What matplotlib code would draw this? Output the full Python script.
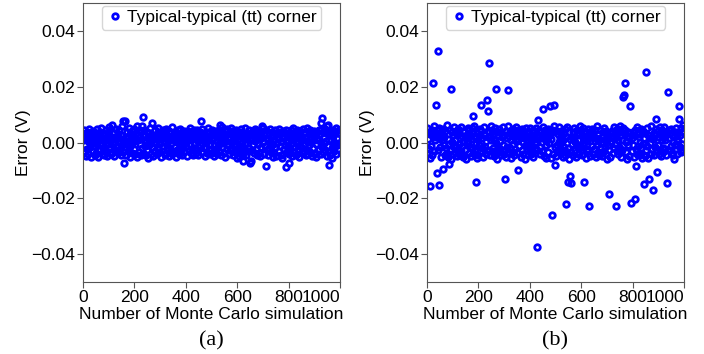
import numpy as np
import matplotlib.pyplot as plt

plt.rcParams['font.family'] = ['Liberation Sans', 'DejaVu Sans']

#%% Data (error in units of 0.1 mV, one value per 2 Monte Carlo runs)

band_a = [
    21, -34, 45, -8, 30, -47, 12, 38, -22, 5, -41, 27, 50, -15, 9, -53, 34, -3, 18, -29,
    43, -12, 2, -45, 31, 16, -36, 48, -6, 24, -50, 11, 39, -27, -2, 52, -39, 14, 33, -19,
    -44, 7, 28, -31, 46, -10, 19, -49, 36, 0, -24, 55, -16, 25, -42, 8, 41, -33, 13, -5,
    35, -48, 22, 4, -28, 49, -14, 30, -38, 17, 44, -21, 1, -46, 29, 58, -9, 37, -35, 10,
    -26, 47, -1, 20, -43, 15, 40, -30, 6, 54, -18, 32, -51, 23, -7, 42, -37, 26, 3, -23,
    50, -40, 13, 34, -11, -52, 27, 8, -32, 45, 19, -4, -46, 38, 60, -20, 24, -36, 11, 47,
    -13, 29, -44, 3, 40, -27, 16, -55, 33, -8, 22, 51, -39, 9, -17, 36, -48, 25, 1, -30,
    44, -6, 18, -42, 31, -23, 53, 12, -35, 39, -2, -50, 27, 15, -29, 46, -12, 4, 35, -45,
    21, -37, 48, -9, 26, -19, 7, 42, -47, 17, 33, -25, -3, 56, -41, 23, 10, -33, 38, -14,
    -52, 30, 2, -28, 45, 14, -40, 24, -7, 50, -21, 36, -44, 11, 28, -16, 43, -34, 5, 19,
    37, -11, -49, 25, 8, 41, -31, 16, -4, 53, -38, 20, -24, 34, -46, 0, 47, -18, 30, -36,
    12, 44, -27, 6, -43, 32, 18, -10, 39, -53, 24, -1, 49, -32, 15, -20, 35, -47, 27, 3,
    -15, 40, -37, 22, 52, -5, 11, -42, 29, -26, 46, 9, -34, 17, -48, 38, -8, 26, -22, 43,
    5, -39, 31, -13, 47, -30, 20, 1, -45, 36, -17, 55, -2, 23, -36, 13, 41, -50, 7, 28,
    -24, 48, -9, 34, -41, 18, -28, 51, 4, -19, 42, -44, 25, -6, 37, -33, 10, 45, -12, -54,
    32, -21, 14, -47, 39, 6, -35, 26, 49, -14, 0, -40, 35, 19, -26, 52, -3, -43, 29, 12,
    -31, 23, 46, -18, 9, -57, 33, -60, 16, -25, 43, -8, 28, -38, 5, 50, -23, 37, -46, 15,
    41, -4, -36, 27, 12, -49, 38, -15, 22, -30, 54, 3, -42, 31, -11, -58, 45, -27, 17, 8,
    -45, 35, -20, 2, 48, -33, 19, -7, 40, -52, 26, 11, -37, 44, -16, 30, -48, 21, -1, 39,
    14, -29, 50, -12, 36, -43, 7, 25, -54, 42, -22, 17, 33, -9, -62, 46, -34, 4, 28, -18,
    -40, -57, 20, -26, 44, 10, -47, 31, -3, 53, -32, 18, 38, -14, 6, -44, 27, 47, -21, 1,
    34, -50, 13, 41, -17, 24, -38, 9, 49, -6, -29, 36, 15, -45, 22, 52, -25, 3, -41, 30,
    -10, 45, -34, 19, 2, -48, 37, 26, -20, 11, 43, -39, 28, -5, -53, 16, 39, -28, 8, 47,
    -23, 32, 55, -42, 14, -15, 40, -35, 21, -3, 48, -26, 6, 35, 60, -49, 25, -11, 18, 42,
    29, -46, 10, 36, -19, -55, 23, 45, -31, 4, 38, -13, 51, -40, 17, -7, 33, -24, 46, 0,
]
out_run_a = [112, 154, 160, 162, 208, 232, 270, 458, 532, 624, 650, 654, 698,
             710, 788, 802, 924, 928, 948, 952, 956]
out_val_a = [64, 78, -73, 76, 61, 92, 70, 76, 64, -67, -73, -65, 61,
             -85, -87, -73, 70, 88, 61, 62, -81]

band_b = [
    -38, 52, 14, -21, 40, -55, 6, 31, -12, 47, -43, 23, -2, 58, -30, 10, 36, -48, 19, -7,
    44, -25, 3, 54, -40, 16, -15, 37, -52, 27, 8, -33, 49, -9, 21, -46, 41, -19, 62, -36,
    12, -50, 33, -4, 46, -28, 20, -58, 38, 1, -41, 26, 55, -17, 9, -35, 43, -11, 30, -47,
    -22, 48, -6, 35, -44, 15, 57, -31, 24, -13, 42, -53, 4, 39, -26, 18, -60, 29, -2, 51,
    7, -37, 45, -16, 28, -49, 13, 53, -24, 36, -8, 60, -42, 22, -29, 47, -3, -56, 34, 11,
    -45, 25, -10, 50, -34, 2, 41, -20, 16, -51, 32, 56, -14, 27, -39, 5, 44, -27, 19, -54,
    38, -5, 23, -43, 11, 59, -30, 45, -18, 30, -47, 8, 52, -36, 14, -1, 40, -57, 26, -12,
    -33, 49, -23, 6, 37, -46, 20, -9, 55, -40, 28, 13, -28, 43, -52, 17, -15, 34, 61, -38,
    24, -18, 42, -55, 9, 31, -35, 50, -4, 19, -44, 36, -21, 5, 57, -32, 27, -48, 12, 46,
    -11, 35, -50, 21, 48, -26, 3, -39, 40, 15, -58, 29, -7, 53, -22, 39, -45, 10, -17, 33,
    54, -29, 8, -42, 26, -13, 44, -53, 18, 38, -6, -37, 51, 1, -25, 32, -49, 22, 47, -15,
    -41, 16, 39, -31, 4, 56, -19, 28, -47, 12, 45, -8, -54, 35, 20, -34, 50, -2, 25, -44,
    30, -56, 13, 46, -23, 37, -40, 7, 59, -16, 23, -48, 41, -10, 32, -30, 2, 55, -38, 17,
    -3, 43, -27, 24, -51, 10, 34, -14, 49, -45, 19, 6, -35, 57, -20, 27, -59, 38, -9, 14,
    47, -33, 21, -6, 40, -43, 15, 52, -26, 3, -50, 31, 44, -18, 9, -41, 36, -12, 60, -28,
    -16, 29, -46, 54, -8, 18, -38, 42, 11, -55, 33, -21, 5, 48, -31, 24, -4, -47, 39, 20,
    35, -12, 50, -39, 26, -24, 7, 44, -52, 16, -7, 58, -33, 30, -44, 13, 46, -19, 2, -36,
    -49, 22, -1, 37, -30, 53, -15, 9, 41, -42, 28, -57, 18, -10, 45, -27, 34, -53, 23, 4,
    43, -37, 15, -20, 55, -5, 32, -46, 19, 48, -29, 10, -40, 38, -14, 61, -24, 27, -51, 8,
    -27, 51, -43, 12, 33, -17, 47, -34, 3, -59, 25, 40, -9, 20, -48, 36, -2, 53, -31, 16,
    39, -8, 28, -52, 14, 45, -23, 6, -40, 57, -13, 31, -45, 22, 1, -36, 49, -19, 37, -55,
    -6, 42, -32, 18, -47, 34, 10, -28, 52, -11, 26, -54, 43, -3, 15, 59, -42, 21, -22, 46,
    13, -44, 36, -15, 27, -58, 48, 4, -30, 41, -7, 19, -39, 56, -25, 32, -49, 8, 44, -18,
    -35, 24, 55, -21, 9, -43, 38, -4, 30, -53, 46, 17, -26, 35, -12, 50, -37, 28, 1, -46,
    20, -60, 40, -9, 52, -24, 14, -41, 33, 6, -50, 45, -16, 27, -33, 54, -5, 37, -28, 62,
]
out_run_b = [24, 34, 44, 92, 180, 210, 232, 238, 242, 268, 314, 432, 452, 478, 494,
             764, 766, 770, 792, 852, 890, 938, 980, 982,
             12, 38, 48, 62, 84, 190, 302, 354, 430, 488, 500, 542, 550, 556, 560,
             612, 632, 708, 734, 794, 808, 814, 844, 864, 878, 894, 934]
out_val_b = [215, 135, 330, 192, 96, 135, 154, 112, 287, 192, 187, 82, 120, 132, 136,
             165, 172, 215, 132, 255, 85, 183, 132, 85,
             -154, -110, -150, -94, -76, -142, -130, -99, -373, -260, -80, -219, -142, -118, -144,
             -142, -227, -183, -227, -215, -201, -85, -148, -132, -168, -105, -144]

label = "Typical-typical (tt) corner"
captions = ["(a)", "(b)"]


def build(band, out_run, out_val):
    run = np.arange(0, 1000, 2)
    err = np.array(band, dtype=float)
    for r, v in zip(out_run, out_val):
        err[run == r] = v
    return run, err * 1e-4  # 0.1 mV -> V


#%% Plot

fig = plt.figure(figsize=(7.04, 3.54), dpi=100)
ax_a = fig.add_axes([0.118, 0.203, 0.365, 0.788])
ax_b = fig.add_axes([0.6065, 0.203, 0.365, 0.788])

data = [build(band_a, out_run_a, out_val_a), build(band_b, out_run_b, out_val_b)]

for ax, (run, err), cap in zip([ax_a, ax_b], data, captions):
    ax.plot(run, err, 'o', mfc='none', mec='blue', ms=4.0, mew=2.0, label=label)
    ax.set_xlim(0, 1000)
    ax.set_ylim(-0.05, 0.05)
    ax.set_xticks([0, 200, 400, 600, 800, 1000])
    ax.set_yticks([-0.04, -0.02, 0.0, 0.02, 0.04])
    ax.tick_params(labelsize=12.5, length=4, width=0.8, color='#555555', pad=2)
    ax.get_xticklabels()[-1].set_horizontalalignment('right')
    for s in ax.spines.values():
        s.set_color('#555555')
    ax.set_xlabel("Number of Monte Carlo simulation", fontsize=12.5, labelpad=1)
    ax.set_ylabel("Error (V)", fontsize=12.5, labelpad=0)
    ax.legend(loc='upper center', fontsize=12.5, handlelength=1.0, handletextpad=0.2,
              borderpad=0.25, borderaxespad=0.15, edgecolor='#cccccc')
    ax.text(0.5, -0.21, cap, transform=ax.transAxes, ha='center', va='center',
            fontsize=16, family='Liberation Serif')

fig.savefig('out.png', dpi=100)
